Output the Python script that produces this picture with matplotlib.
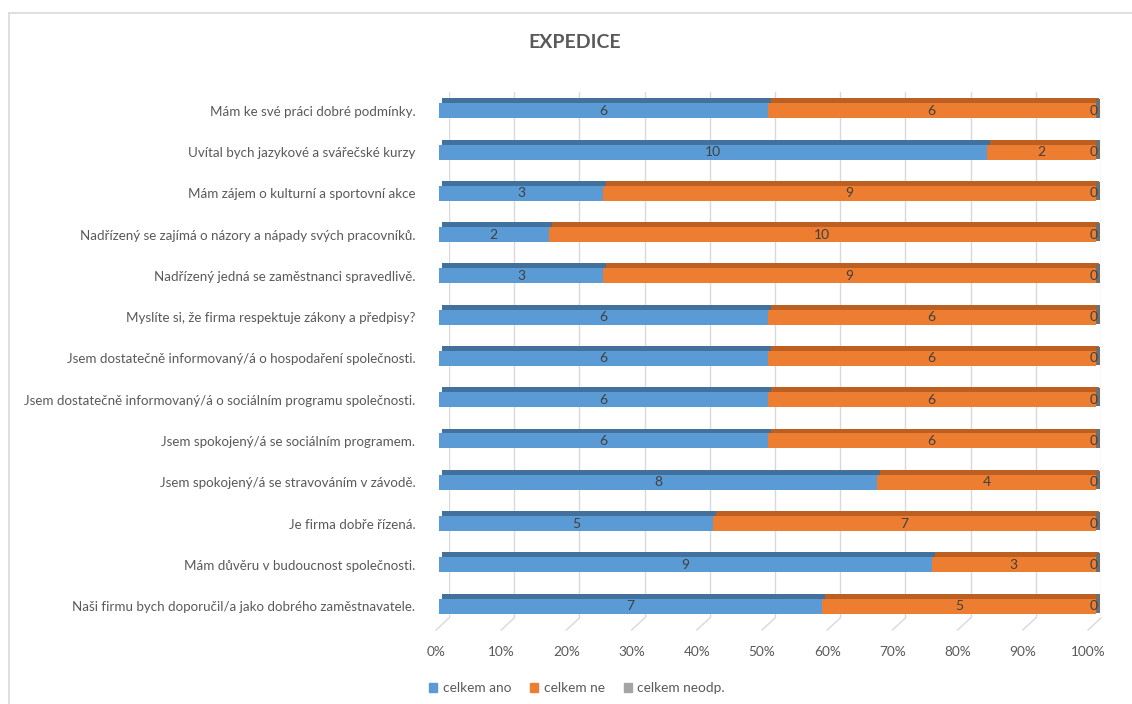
import matplotlib.pyplot as plt
from matplotlib.lines import Line2D
from matplotlib.transforms import ScaledTranslation
import numpy as np

questions = [
    "Mám ke své práci dobré podmínky.",
    "Uvítal bych jazykové a svářečské kurzy",
    "Mám zájem o kulturní a sportovní akce",
    "Nadřízený se zajímá o názory a nápady svých pracovníků.",
    "Nadřízený jedná se zaměstnanci spravedlivě.",
    "Myslíte si, že firma respektuje zákony a předpisy?",
    "Jsem dostatečně informovaný/á o hospodaření společnosti.",
    "Jsem dostatečně informovaný/á o sociálním programu společnosti.",
    "Jsem spokojený/á se sociálním programem.",
    "Jsem spokojený/á se stravováním v závodě.",
    "Je firma dobře řízená.",
    "Mám důvěru v budoucnost společnosti.",
    "Naši firmu bych doporučil/a jako dobrého zaměstnavatele.",
]
ano = [6, 10, 3, 2, 3, 6, 6, 6, 6, 8, 5, 9, 7]
ne = [6, 2, 9, 10, 9, 6, 6, 6, 6, 4, 7, 3, 5]
neodp = [0, 0, 0, 0, 0, 0, 0, 0, 0, 0, 0, 0, 0]

series_names = ["celkem ano", "celkem ne", "celkem neodp."]
colors = ["#5B9BD5", "#ED7D31", "#A5A5A5"]
top_colors = ["#41719C", "#BE5F22", "#7C7C7C"]
ticks = np.arange(0, 1.01, 0.1)
tick_labels = [f"{int(round(t * 100))}%" for t in ticks]

plt.rcParams['font.family'] = ['Lato', 'DejaVu Sans']
TXT = "#595959"

W, H = 1132, 704
fig = plt.figure(figsize=(W / 100, H / 100), dpi=100)

def fx(px):
    return px / W

def fy(py):
    return 1 - py / H

# chart border
fig.add_artist(Line2D([fx(8.5), 1], [fy(12.5), fy(12.5)], color="#d9d9d9", lw=1.2))
fig.add_artist(Line2D([fx(8.5), fx(8.5)], [fy(12.5), 0], color="#d9d9d9", lw=1.2))

fig.text(fx(575), fy(43), "EXPEDICE", ha="center", va="center",
         fontsize=14, fontweight="bold", color=TXT)

# back wall with gridlines
y_top, y_bot = 92, 618
wall = fig.add_axes([fx(449), fy(y_bot), fx(1101) - fx(449), fy(y_top) - fy(y_bot)])
wall.set_xlim(0, 1)
wall.set_ylim(0, 1)
wall.set_xticks(ticks)
wall.set_xticklabels(tick_labels, fontsize=9.8, color=TXT)
wall.tick_params(axis="x", length=0, pad=20)
wall.set_yticks([])
for s in wall.spines.values():
    s.set_visible(False)
wall.grid(axis="x", color="#d9d9d9", lw=1)
shift = ScaledTranslation(-13 / 100, 0, fig.dpi_scale_trans)
for lab in wall.get_xticklabels():
    lab.set_transform(lab.get_transform() + shift)
# floor lines
for t in ticks:
    x0 = 449 + t * (1101 - 449)
    fig.add_artist(Line2D([fx(x0), fx(x0 - 13)], [fy(y_bot), fy(y_bot + 12)],
                          color="#d9d9d9", lw=1))

# bars
ax = fig.add_axes([fx(439), fy(y_bot), fx(1096) - fx(439), fy(y_top) - fy(y_bot)])
ax.patch.set_alpha(0)
n = len(questions)
ypos = np.arange(n)[::-1]
ax.set_xlim(0, 1)
ax.set_ylim(-0.289, 12.456)
ax.set_yticks(ypos)
ax.set_yticklabels(questions, fontsize=9.6, color=TXT)
ax.tick_params(axis="y", length=0, pad=17)
ax.set_xticks([])
for s in ax.spines.values():
    s.set_visible(False)

vals = np.array([ano, ne, neodp], dtype=float)
totals = vals.sum(axis=0)
shares = vals / totals
body_h = 0.363
top_h = 0.12
px_per_x = 1096 - 439
depth = 4 / px_per_x
top_trans = ax.transData + ScaledTranslation(3 / 100, 0, fig.dpi_scale_trans)

left = np.zeros(n)
for k in range(3):
    ax.barh(ypos, shares[k], left=left, height=body_h, color=colors[k],
            label=series_names[k], zorder=3, lw=0)
    tb = ax.barh(ypos + body_h / 2 + top_h / 2, shares[k], left=left, height=top_h,
                 color=top_colors[k], zorder=2, lw=0)
    for p in tb:
        p.set_transform(top_trans)
        p.set_clip_on(False)
    for i in range(n):
        cx = left[i] + shares[k][i] / 2
        if k == 2:
            cx = left[i] - 0.004
        ax.text(cx, ypos[i], f"{int(vals[k][i])}", ha="center", va="center",
                fontsize=10, color="#404040", zorder=5)
    left = left + shares[k]

# right side face of the 3D bars
side = ax.barh(ypos + top_h / 2, depth, left=left, height=body_h + top_h * 0.7,
               color="#6f6f6f", zorder=4, lw=0)
for p in side:
    p.set_clip_on(False)

handles = [plt.Rectangle((0, 0), 1, 1, color=c) for c in colors]
fig.legend(handles, series_names, loc="center", bbox_to_anchor=(fx(577), fy(688)),
           ncol=3, frameon=False, fontsize=9.8, handlelength=0.6, handleheight=0.6,
           handletextpad=0.4, columnspacing=1.4, labelcolor=TXT)

fig.savefig("out.png", dpi=100)
